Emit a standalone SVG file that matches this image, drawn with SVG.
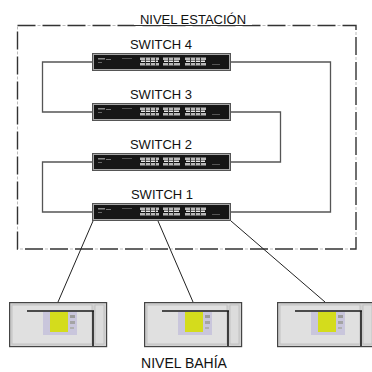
<svg xmlns="http://www.w3.org/2000/svg" xmlns:xlink="http://www.w3.org/1999/xlink" width="372" height="372" viewBox="0 0 372 372">
  <style>
    .lbl { font-family: "Liberation Sans", Arial, sans-serif; font-size: 13px; fill: #111; text-anchor: middle; }
    .ring { fill: none; stroke: #555; stroke-width: 1.3; }
    .drop { fill: none; stroke: #222; stroke-width: 1; }
    .zone { fill: none; stroke: #333; stroke-width: 1.4; stroke-dasharray: 18 7; }
    .zone-faint { fill: none; stroke: #bbb; stroke-width: 1; stroke-dasharray: 3 22; stroke-dashoffset: -20; }
  </style>
  <defs>
    <!-- Ethernet switch front panel, 139 x 18 -->
    <g id="sw">
      <rect x="0.5" y="0.5" width="138" height="17" fill="#a8a8a8" stroke="#555" stroke-width="1"/>
      <rect x="2" y="2" width="135" height="14" fill="#161616"/>
      <!-- status marks -->
      <rect x="6" y="5" width="7" height="1.5" fill="#888"/>
      <rect x="6" y="9" width="4" height="1" fill="#666"/>
      <rect x="14" y="6" width="5" height="1" fill="#777"/>
      <rect x="30" y="5" width="10" height="1" fill="#555"/>
      <rect x="120" y="11" width="8" height="1" fill="#555"/>
      <!-- port blocks -->
      <g fill="#b9b9b9">
        <rect x="48" y="4.5" width="19" height="2.5"/>
        <rect x="48" y="10" width="19" height="2.5"/>
        <rect x="71" y="4.5" width="17" height="2.5"/>
        <rect x="71" y="10" width="17" height="2.5"/>
        <rect x="93" y="4.5" width="21" height="2.5"/>
        <rect x="93" y="10" width="21" height="2.5"/>
      </g>
      <g fill="#e8e8e8">
        <rect x="49" y="7.5" width="17" height="1.5"/>
        <rect x="72" y="7.5" width="15" height="1.5"/>
        <rect x="94" y="7.5" width="19" height="1.5"/>
      </g>
      <g fill="#333">
        <rect x="53" y="4.5" width="1" height="8"/>
        <rect x="58" y="4.5" width="1" height="8"/>
        <rect x="63" y="4.5" width="1" height="8"/>
        <rect x="76" y="4.5" width="1" height="8"/>
        <rect x="81" y="4.5" width="1" height="8"/>
        <rect x="98" y="4.5" width="1" height="8"/>
        <rect x="103" y="4.5" width="1" height="8"/>
        <rect x="108" y="4.5" width="1" height="8"/>
      </g>
    </g>
    <!-- bay-level device, 98 x 45 -->
    <g id="ied">
      <rect x="0.6" y="0.6" width="97" height="44" fill="#d2d2d2" stroke="#444" stroke-width="1.2"/>
      <rect x="3" y="3" width="80" height="39" fill="#e0e0e0" stroke="#bcbcbc" stroke-width="0.8"/>
      <rect x="86" y="3" width="9" height="39" fill="#dcdcdc" stroke="#bcbcbc" stroke-width="0.8"/>
      <rect x="34" y="10" width="34" height="23" fill="#c9c6dc"/>
      <rect x="41" y="10" width="18" height="20" fill="#d4dc1c"/>
      <rect x="61" y="13" width="5" height="3" fill="#9a9a9a"/>
      <rect x="61" y="19" width="5" height="3" fill="#a4a4a4"/>
      <rect x="61" y="25" width="4" height="2" fill="#b0b0b0"/>
      <line x1="18" y1="9" x2="85" y2="9" stroke="#1a1a1a" stroke-width="1.6"/>
      <line x1="84" y1="9" x2="84" y2="44" stroke="#1a1a1a" stroke-width="1.6"/>
    </g>
  </defs>

  <!-- station-level boundary -->
  <g id="nivel-estacion">
    <rect class="zone" x="17.5" y="25.5" width="338.5" height="223.5"/>
    <rect class="zone-faint" x="17.5" y="25.5" width="338.5" height="223.5"/>
    <rect x="134" y="14" width="118" height="11" fill="#fff"/>
    <line x1="134" y1="25.5" x2="252" y2="25.5" stroke="#333" stroke-width="1.2"/>
    <text class="lbl" x="193" y="24">NIVEL ESTACIÓN</text>
  </g>

  <!-- links -->
  <g id="connectors">
    <polyline class="ring" points="92,62 42.5,62 42.5,112 92,112"/>
    <polyline class="ring" points="231,112 280.5,112 280.5,162 231,162"/>
    <polyline class="ring" points="92,162 42.5,162 42.5,212 92,212"/>
    <polyline class="ring" points="231,62 330.5,62 330.5,212 231,212"/>
    <line class="drop" x1="93" y1="221" x2="58" y2="302"/>
    <line class="drop" x1="158" y1="221" x2="193" y2="302"/>
    <line class="drop" x1="231" y1="221" x2="325" y2="302"/>
  </g>

  <g id="switch4">
    <use xlink:href="#sw" x="92" y="53"/>
    <text class="lbl" x="161" y="49">SWITCH 4</text>
  </g>
  <g id="switch3">
    <use xlink:href="#sw" x="92" y="103"/>
    <text class="lbl" x="161" y="99">SWITCH 3</text>
  </g>
  <g id="switch2">
    <use xlink:href="#sw" x="92" y="153"/>
    <text class="lbl" x="161" y="149">SWITCH 2</text>
  </g>
  <g id="switch1">
    <use xlink:href="#sw" x="92" y="203"/>
    <text class="lbl" x="162" y="199">SWITCH 1</text>
  </g>

  <g id="ied1"><use xlink:href="#ied" x="9" y="302"/></g>
  <g id="ied2"><use xlink:href="#ied" x="144" y="302"/></g>
  <g id="ied3"><use xlink:href="#ied" x="277" y="302"/></g>

  <g id="nivel-bahia">
    <text class="lbl" x="184" y="368" style="font-size:14px">NIVEL BAHÍA</text>
  </g>
</svg>
